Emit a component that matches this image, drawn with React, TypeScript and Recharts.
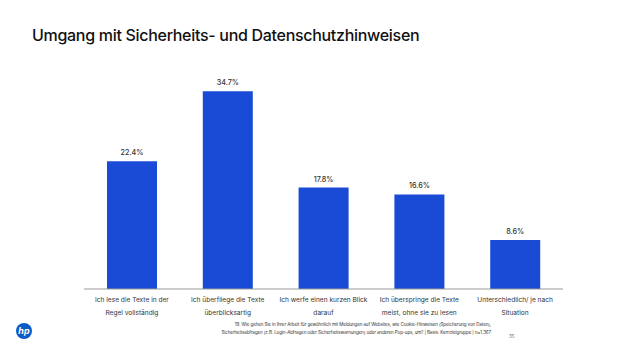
import React from "react";
import { BarChart, Bar, XAxis, YAxis, LabelList } from "recharts";

const categories = [
  "Ich lese die Texte in der Regel vollständig",
  "Ich überfliege die Texte überblicksartig",
  "Ich werfe einen kurzen Blick darauf",
  "Ich überspringe die Texte meist, ohne sie zu lesen",
  "Unterschiedlich/ je nach Situation",
];

// how each tick label wraps in the original
const tickLines = [
  ["Ich lese die Texte in der", "Regel vollständig"],
  ["Ich überfliege die Texte", "überblicksartig"],
  ["Ich werfe einen kurzen Blick", "darauf"],
  ["Ich überspringe die Texte", "meist, ohne sie zu lesen"],
  ["Unterschiedlich/ je nach", "Situation"],
];

const shares = [22.4, 34.7, 17.8, 16.6, 8.6];

const BLUE = "#1a4bd6";
const FONT = "Inter, 'Noto Sans', sans-serif";

const data = categories.map((c, i) => ({ name: c, value: shares[i], idx: i }));

const CategoryTick = (props: any) => {
  const { x, index } = props;
  const lines = tickLines[index] || [];
  return (
    <text x={x} y={302} textAnchor="middle" fill="#333" fontSize={6.6} fontFamily={FONT}>
      {lines.map((l, i) => (
        <tspan key={i} x={x} dy={i === 0 ? 0 : 12.5}>
          {l}
        </tspan>
      ))}
    </text>
  );
};

export default function App() {
  return (
    <div
      style={{
        position: "absolute",
        left: 0,
        top: 0,
        width: 640,
        height: 353,
        background: "#fff",
        overflow: "hidden",
        fontFamily: FONT,
      }}
    >
      <div
        style={{
          position: "absolute",
          left: 32,
          top: 24,
          fontSize: 16,
          fontWeight: 500,
          color: "#111",
          letterSpacing: -0.3,
          whiteSpace: "nowrap",
          lineHeight: "22px",
        }}
      >
        Umgang mit Sicherheits- und Datenschutzhinweisen
      </div>

      <div style={{ position: "absolute", left: 0, top: 0 }}>
        <BarChart
          width={640}
          height={353}
          data={data}
          margin={{ top: 61, right: 77, bottom: 24, left: 84 }}
        >
          <XAxis
            dataKey="name"
            axisLine={{ stroke: "#999", strokeWidth: 1 }}
            tickLine={false}
            interval={0}
            height={40}
            tick={<CategoryTick />}
          />
          <YAxis hide domain={[0, 40]} />
          <Bar dataKey="value" fill={BLUE} barSize={50} isAnimationActive={false}>
            <LabelList
              dataKey="value"
              position="top"
              offset={6}
              fill="#333"
              fontSize={7.2}
              fontFamily={FONT}
              fontWeight={500}
              formatter={(v: any) => `${Number(v).toFixed(1)}%`}
            />
          </Bar>
        </BarChart>
      </div>

      <svg
        width={20}
        height={20}
        style={{ position: "absolute", left: 14, top: 321 }}
        viewBox="0 0 20 20"
      >
        <circle cx={10} cy={10} r={8} fill="#0a5ac8" />
        <text
          x={10}
          y={13}
          textAnchor="middle"
          fontSize={9}
          fontStyle="italic"
          fontWeight={700}
          fill="#fff"
          fontFamily={FONT}
        >
          hp
        </text>
      </svg>

      <div
        style={{
          position: "absolute",
          right: 149,
          top: 321,
          fontSize: 4.5,
          lineHeight: "8px",
          color: "#333",
          textAlign: "right",
          whiteSpace: "nowrap",
          letterSpacing: -0.1,
        }}
      >
        19. Wie gehen Sie in Ihrer Arbeit für gewöhnlich mit Meldungen auf Websites, wie Cookie-Hinweisen (Speicherung von Daten),
        <br />
        Sicherheitsabfragen (z.B. Login-Abfragen oder Sicherheitswarnungen) oder anderen Pop-ups, um? | Basis: Kernzielgruppe | n=1.367
      </div>
      <div
        style={{
          position: "absolute",
          left: 509,
          top: 334,
          fontSize: 4.5,
          color: "#666",
        }}
      >
        35
      </div>
    </div>
  );
}
